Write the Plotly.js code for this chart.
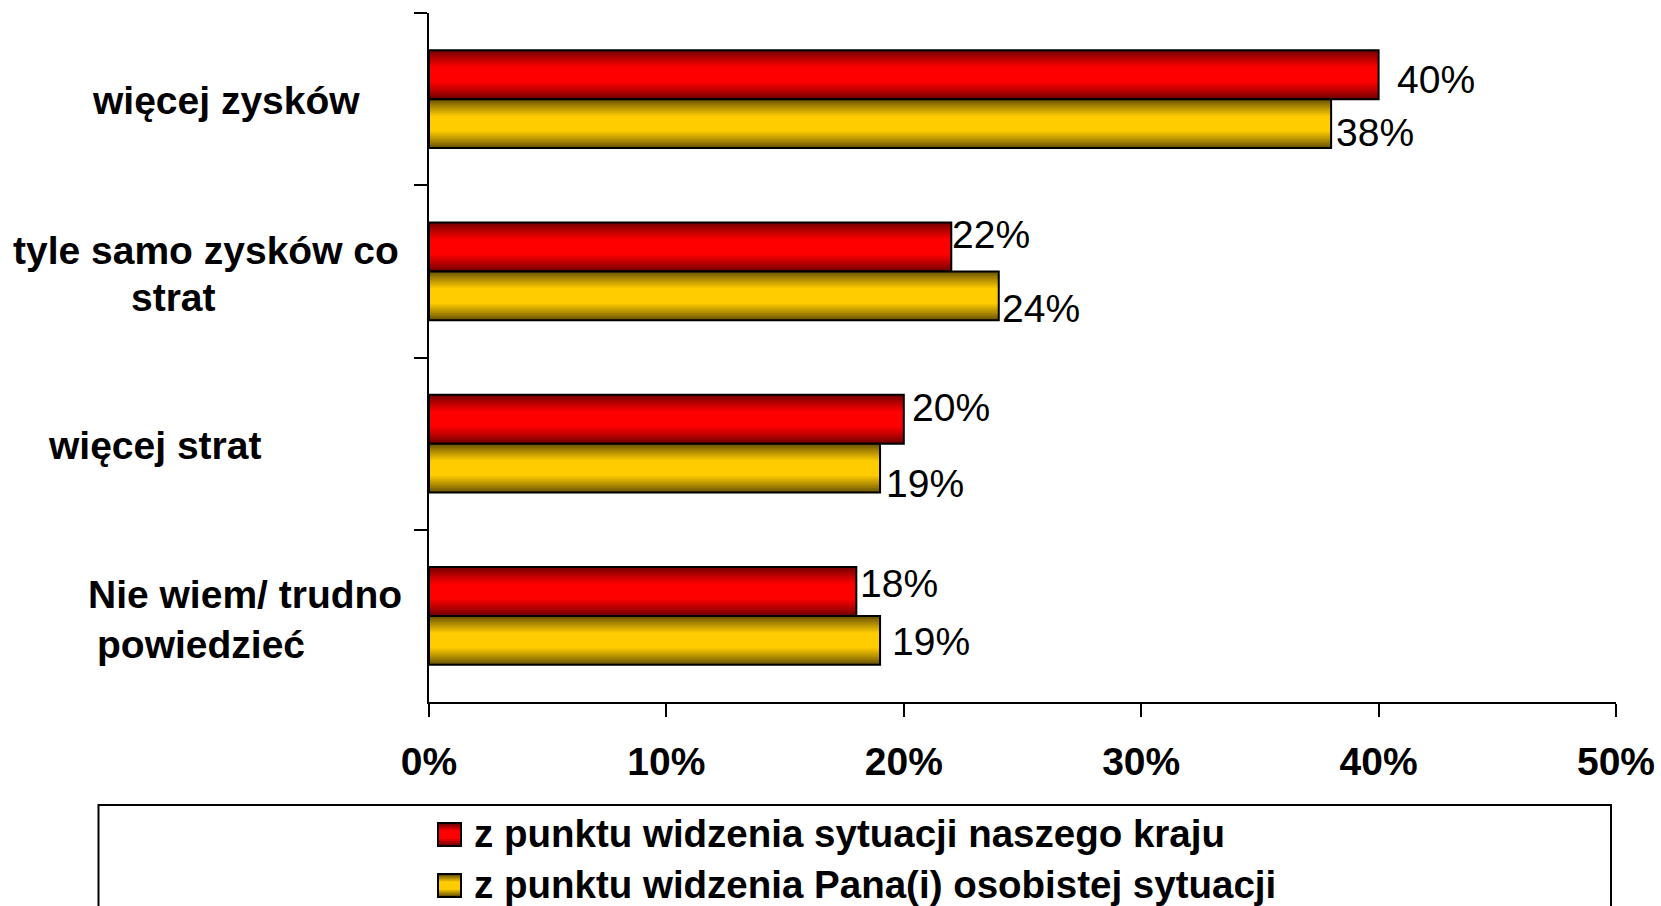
<!DOCTYPE html>
<html>
<head>
<meta charset="utf-8">
<script src="https://cdn.plot.ly/plotly-3.0.1.min.js"></script>
<style>html,body{margin:0;padding:0;background:#fff;}#chart{width:1661px;height:906px;}</style>
</head>
<body>
<div id="chart"></div>
<script>
// ---- data ----
const categories = ['więcej zysków', 'tyle samo zysków co strat', 'więcej strat', 'Nie wiem/ trudno powiedzieć'];
const categoryLabelLines = [['więcej zysków'], ['tyle samo zysków co', 'strat'], ['więcej strat'], ['Nie wiem/ trudno', 'powiedzieć']];
const seriesNames = ['z punktu widzenia sytuacji naszego kraju', 'z punktu widzenia Pana(i) osobistej sytuacji'];
const krajValues = [40, 22, 20, 18];
const osobistaValues = [38, 24, 19, 19];
const xTickVals = [0, 10, 20, 30, 40, 50];
const xTickText = ['0%', '10%', '20%', '30%', '40%', '50%'];

// ---- styling / layout ----
const W = 1661, H = 906, L = 429, R = 45, T = 13, B = 204;
const pw = W - L - R, ph = H - T - B;
const px2x = px => (px - L) / pw;
const py2y = py => (H - B - py) / ph;
const FONT = 'Arial, "Liberation Sans", sans-serif';

const seriesStyles = [
  {dark: [115, 0, 0], bright: [255, 0, 0], center: -0.142},
  {dark: [105, 82, 0], bright: [255, 204, 0], center: 0.142}
];
const barW = 0.284;
const layersN = 12;
const seriesData = [krajValues, osobistaValues];

function lerpColor(a, b, t) {
  return 'rgb(' + a.map((v, i) => Math.round(v + (b[i] - v) * t)).join(',') + ')';
}

const traces = [];
seriesData.forEach((vals, s) => {
  const st = seriesStyles[s];
  for (let i = 0; i < layersN; i++) {
    const t = i / (layersN - 1);
    const f = 1 - t * 0.68;
    const w = barW * f;
    traces.push({
      type: 'bar', orientation: 'h', x: vals, y: categories,
      width: w, offset: st.center - w / 2,
      marker: {color: lerpColor(st.dark, st.bright, Math.pow(t, 0.9)), line: {width: 0}},
      showlegend: false, hoverinfo: 'skip', name: seriesNames[s]
    });
  }
  traces.push({
    type: 'bar', orientation: 'h', x: vals, y: categories,
    width: barW, offset: st.center - barW / 2,
    marker: {color: 'rgba(0,0,0,0)', line: {width: 2, color: '#000'}},
    showlegend: false, name: seriesNames[s]
  });
});

const annotations = [];
// category labels
const catLabelCenters = [[226], [206, 173], [154], [245, 201]];
const catLabelShifts = [[-1], [21, -26], [-2], [21, -29]];
categoryLabelLines.forEach((lines, c) => {
  lines.forEach((txt, k) => {
    annotations.push({
      text: txt, xref: 'paper', x: px2x(catLabelCenters[c][k]), xanchor: 'center',
      yref: 'y', y: categories[c], yanchor: 'middle', yshift: catLabelShifts[c][k],
      showarrow: false, font: {family: FONT, size: 39, color: '#000', weight: 'bold'}
    });
  });
});
// value labels
const labelXShift = [[16, -1, 6, 2], [3, 1, 4, 10]];
const labelYShift = [[20, 37, 36, 32], [-33, -37, -40, -26]];
seriesData.forEach((vals, s) => {
  vals.forEach((v, c) => {
    annotations.push({
      text: v + '%', xref: 'x', x: v, xanchor: 'left', xshift: labelXShift[s][c],
      yref: 'y', y: categories[c], yanchor: 'middle', yshift: labelYShift[s][c],
      showarrow: false, font: {family: FONT, size: 39, color: '#000'}
    });
  });
});

// legend (manual, inside a framed box)
const shapes = [{
  type: 'rect', xref: 'paper', yref: 'paper',
  x0: px2x(98.5), x1: px2x(1611), y0: py2y(805), y1: py2y(940),
  line: {color: '#000', width: 2}, fillcolor: 'rgba(0,0,0,0)'
}];
const legendRowY = [834.5, 885.5];
seriesNames.forEach((nm, s) => {
  const st = seriesStyles[s];
  const cy = legendRowY[s], cx = 449.5, half = 11.5;
  const n = 5;
  for (let i = 0; i < n; i++) {
    const t = i / (n - 1);
    const hh = half * (1 - t * 0.62);
    shapes.push({
      type: 'rect', xref: 'paper', yref: 'paper',
      x0: px2x(cx - half), x1: px2x(cx + half), y0: py2y(cy + hh), y1: py2y(cy - hh),
      line: {width: 0}, fillcolor: lerpColor(st.dark, st.bright, t)
    });
  }
  shapes.push({
    type: 'rect', xref: 'paper', yref: 'paper',
    x0: px2x(cx - half), x1: px2x(cx + half), y0: py2y(cy + half), y1: py2y(cy - half),
    line: {width: 2, color: '#000'}, fillcolor: 'rgba(0,0,0,0)'
  });
  annotations.push({
    text: nm, xref: 'paper', x: px2x(472), xanchor: 'left',
    yref: 'paper', y: py2y(cy - 1), yanchor: 'middle',
    showarrow: false, font: {family: FONT, size: 38.5, color: '#000', weight: 'bold'}
  });
});

const layout = {
  width: W, height: H, autosize: false,
  margin: {l: L, r: R, t: T, b: B, pad: 0},
  paper_bgcolor: '#fff', plot_bgcolor: '#fff',
  barmode: 'overlay', showlegend: false,
  font: {family: FONT, color: '#000'},
  xaxis: {
    range: [0, 50], tickvals: xTickVals, ticktext: xTickText,
    ticks: 'outside', ticklen: 13, tickwidth: 2, tickcolor: '#000',
    showline: true, linewidth: 2, linecolor: '#000',
    showgrid: false, zeroline: false, fixedrange: true,
    tickfont: {family: FONT, size: 39, color: '#000', weight: 'bold'},
    ticklabelstandoff: 11
  },
  yaxis: {
    type: 'category', range: [3.5, -0.5],
    ticks: 'outside', ticklen: 13, tickwidth: 2, tickcolor: '#000', tickson: 'boundaries',
    showline: true, linewidth: 2, linecolor: '#000',
    showgrid: false, zeroline: false, showticklabels: false, fixedrange: true
  },
  annotations: annotations,
  shapes: shapes
};

Plotly.newPlot('chart', traces, layout, {displayModeBar: false, staticPlot: true});
</script>
</body>
</html>
